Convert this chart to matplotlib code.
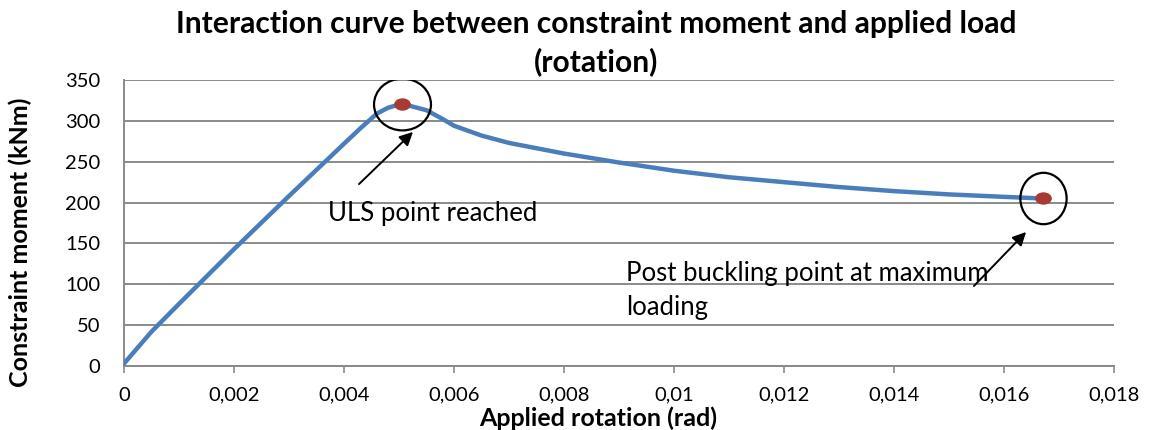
import matplotlib
matplotlib.use("Agg")
import matplotlib.pyplot as plt
from matplotlib.ticker import MultipleLocator, FuncFormatter
from matplotlib.path import Path
from matplotlib.transforms import Affine2D

rotation = [0.0, 0.0005, 0.001, 0.002, 0.003, 0.004, 0.0043, 0.0046, 0.0048, 0.00505,
            0.0055, 0.0058, 0.006, 0.0065, 0.007, 0.008, 0.009, 0.010, 0.011,
            0.012, 0.013, 0.014, 0.015, 0.016, 0.0167]
moment = [3, 42, 76, 143, 208, 272, 291, 309, 316, 321,
          313, 302, 294, 282, 273, 260, 249, 239, 231,
          225, 219, 214, 210, 207, 205]
uls_point = (0.00505, 321)
post_point = (0.0167, 205)

title = "Interaction curve between constraint moment and applied load\n(rotation)"
xlabel = "Applied rotation (rad)"
ylabel = "Constraint moment (kNm)"
uls_text = "ULS point reached"
post_text = "Post buckling point at maximum\nloading"

plt.rcParams['font.family'] = ['Lato', 'DejaVu Sans']


def ellipse_marker(sx, sy):
    circ = Path.unit_circle()
    return circ.transformed(Affine2D().scale(sx, sy))


fig = plt.figure(figsize=(11.51, 4.30), dpi=100)
ax = fig.add_axes([124/1151, 1-366/430, (1114-124)/1151, (366-80)/430])

ax.plot(rotation, moment, color='#4a7ebb', lw=3.2, solid_capstyle='round', zorder=3)
dot = ellipse_marker(1.0, 0.72)
for p in (uls_point, post_point):
    ax.plot(*p, marker=dot, ms=11, mfc='#a83a35', mec='#a83a35', zorder=4)
ax.plot(*uls_point, marker=ellipse_marker(1.0, 0.91), ms=41, mfc='none',
        mec='black', mew=1.6, zorder=5)
ax.plot(*post_point, marker=ellipse_marker(0.9, 1.0), ms=37, mfc='none',
        mec='black', mew=1.6, zorder=5)

ax.set_xlim(0, 0.018)
ax.set_ylim(0, 350)
ax.xaxis.set_major_locator(MultipleLocator(0.002))
ax.yaxis.set_major_locator(MultipleLocator(50))
ax.xaxis.set_major_formatter(FuncFormatter(lambda v, p: ('%g' % round(v, 4)).replace('.', ',')))
ax.grid(axis='y', color='#8a8a8a', lw=1.4)
ax.set_axisbelow(True)
for s in ('top', 'right'):
    ax.spines[s].set_visible(False)
for s in ('left', 'bottom'):
    ax.spines[s].set_color('#8a8a8a')
    ax.spines[s].set_linewidth(1.4)
ax.tick_params(axis='x', direction='out', length=5, width=1.2, color='#8a8a8a',
               labelsize=14.5, pad=10)
ax.tick_params(axis='y', length=0, labelsize=14.5, pad=17)

ax.set_xlabel(xlabel, fontsize=18, fontweight='bold', va='center')
ax.xaxis.set_label_coords((598-124)/990, (366-418)/286)
ax.set_ylabel(ylabel, fontsize=18, fontweight='bold', va='center')
ax.yaxis.set_label_coords((20-124)/990, (366-242)/286)
fig.text(596/1151, 1-24/430, title.split('\n')[0], ha='center', va='center',
         fontsize=21.6, fontweight='bold')
fig.text(596/1151, 1-62/430, title.split('\n')[1], ha='center', va='center',
         fontsize=21.6, fontweight='bold')

ax.annotate(uls_text, xy=uls_point, xytext=(328, 430-214), textcoords='figure pixels',
            fontsize=18.5, va='center', ha='left')
ax.annotate('', xy=(415, 430-130), xytext=(357, 430-186), xycoords='figure pixels',
            textcoords='figure pixels',
            arrowprops=dict(arrowstyle='-|>', color='black', lw=1.4, mutation_scale=20))
ax.annotate(post_text, xy=post_point, xytext=(626, 430-291), textcoords='figure pixels',
            fontsize=18.5, va='center', ha='left', linespacing=1.45)
ax.annotate('', xy=(1028, 430-230), xytext=(972, 430-288), xycoords='figure pixels',
            textcoords='figure pixels',
            arrowprops=dict(arrowstyle='-|>', color='black', lw=1.4, mutation_scale=20))

fig.savefig('out.png', dpi=100)
